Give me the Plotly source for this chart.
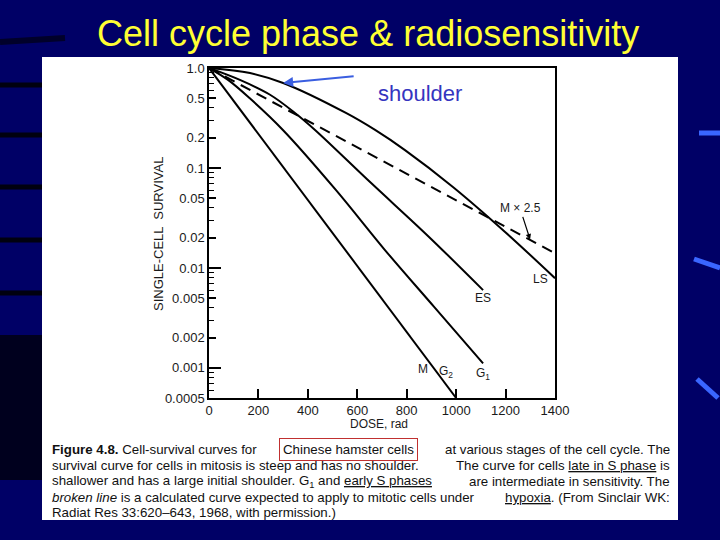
import math
import plotly.graph_objects as go

# ---------------- data ----------------
dose_M = [0, 1000]
surv_M = [1.0, 0.0005]

dose_G1 = [0, 77, 164, 299, 514, 712, 910, 1109]
surv_G1 = [1.0, 0.76, 0.50, 0.24, 0.060, 0.0151, 0.0041, 0.00111]

dose_ES = [0, 125, 247, 348, 429, 655, 886, 1109]
surv_ES = [1.0, 0.76, 0.54, 0.355, 0.24, 0.071, 0.0209, 0.0060]

dose_LS = [0, 166, 300, 554, 672, 793, 987, 1198, 1400]
surv_LS = [1.0, 0.89, 0.708, 0.355, 0.24, 0.151, 0.0646, 0.0229, 0.0079]

dose_hyp = [0, 1400]          # broken line: M x 2.5 (hypoxia)
surv_hyp = [1.0, 0.0140]

x_ticks = [0, 200, 400, 600, 800, 1000, 1200, 1400]
y_ticks = [1.0, 0.5, 0.2, 0.1, 0.05, 0.02, 0.01, 0.005, 0.002, 0.001, 0.0005]
y_ticktext = ["1.0", "0.5", "0.2", "0.1", "0.05", "0.02", "0.01", "0.005", "0.002", "0.001", "0.0005"]
y_decades = [1.0, 0.1, 0.01, 0.001]
y_minor = [m * d for d in [0.1, 0.01, 0.001, 0.0001] for m in (3, 4, 6, 7, 8, 9) if 0.0005 <= m * d <= 1]

# curve labels (dose, survival, text)
curve_labels = [
    (1343, 0.0078, "LS"),
    (1109, 0.0050, "ES"),
    (1109, 0.00087, "G<sub>1</sub>"),
    (866, 0.00098, "M"),
    (959, 0.00091, "G<sub>2</sub>"),
]
hyp_arrow_tip = (1299, 0.0193)
shoulder_text = (854, 0.56)
shoulder_tip = (300, 0.708)

# ---------------- layout helpers ----------------
L, R, T, B = 209, 555, 68, 398
W, H = 720, 540


def px(x):
    return (x - L) / (R - L)


def py(y):
    return (B - y) / (B - T)


FONT = "Liberation Sans, Arial, sans-serif"
ymin, ymax = math.log10(0.0005), 0.0

fig = go.Figure()

line_style = dict(color="black", width=2, shape="spline", smoothing=1.0)
fig.add_trace(go.Scatter(x=dose_M, y=surv_M, mode="lines", line=dict(color="black", width=2)))
fig.add_trace(go.Scatter(x=dose_G1, y=surv_G1, mode="lines", line=line_style))
fig.add_trace(go.Scatter(x=dose_ES, y=surv_ES, mode="lines", line=line_style))
fig.add_trace(go.Scatter(x=dose_LS, y=surv_LS, mode="lines", line=line_style))
fig.add_trace(go.Scatter(x=dose_hyp, y=surv_hyp, mode="lines",
                         line=dict(color="black", width=2, dash="11px,7px")))
# invisible helpers so overlay tick axes are drawn
fig.add_trace(go.Scatter(x=[0], y=[1], yaxis="y2", mode="markers", marker=dict(opacity=0), hoverinfo="skip"))
fig.add_trace(go.Scatter(x=[0], y=[1], yaxis="y3", mode="markers", marker=dict(opacity=0), hoverinfo="skip"))

tickfont = dict(family=FONT, size=13, color="#1a1a1a")

fig.update_layout(
    width=W, height=H,
    margin=dict(l=L, r=W - R, t=T, b=H - B),
    paper_bgcolor="#000066",
    plot_bgcolor="white",
    showlegend=False,
    xaxis=dict(range=[0, 1400], tickvals=x_ticks, ticks="inside", ticklen=9, tickwidth=1.5,
               tickcolor="black", showgrid=False, zeroline=False, showline=True,
               linecolor="black", linewidth=1.5, mirror=True, tickfont=tickfont),
    yaxis=dict(type="log", range=[ymin, ymax], tickvals=y_ticks, ticktext=y_ticktext,
               ticks="inside", ticklen=7, tickwidth=1.5, tickcolor="black", showgrid=False,
               zeroline=False, showline=True, linecolor="black", linewidth=1.5, mirror=True,
               tickfont=tickfont),
    yaxis2=dict(type="log", range=[ymin, ymax], overlaying="y", side="left", anchor="x",
                tickvals=y_decades, ticks="inside", ticklen=12, tickwidth=1.5, tickcolor="black",
                showticklabels=False, showgrid=False, zeroline=False, showline=False),
    yaxis3=dict(type="log", range=[ymin, ymax], overlaying="y", side="left", anchor="x",
                tickvals=y_minor, ticks="inside", ticklen=5, tickwidth=1.2, tickcolor="black",
                showticklabels=False, showgrid=False, zeroline=False, showline=False),
)

shapes = []
# white panel
shapes.append(dict(type="rect", xref="paper", yref="paper", x0=px(42), x1=px(678),
                   y0=py(520), y1=py(57), fillcolor="white", line=dict(width=0), layer="below"))
# slide decorations - dark stripes on left
for yy in (85, 135, 187, 240, 293):
    shapes.append(dict(type="line", xref="paper", yref="paper", x0=px(0), x1=px(42),
                       y0=py(yy), y1=py(yy), line=dict(color="#00000f", width=5), layer="below"))
shapes.append(dict(type="rect", xref="paper", yref="paper", x0=px(0), x1=px(42),
                   y0=py(480), y1=py(335), fillcolor="#00000c", opacity=0.8,
                   line=dict(width=0), layer="below"))
shapes.append(dict(type="line", xref="paper", yref="paper", x0=px(0), x1=px(65),
                   y0=py(42), y1=py(38), line=dict(color="#00002a", width=6), layer="below"))
# blue streaks on right
for (x0, y0, x1, y1) in ((699, 133, 720, 133), (694, 259, 720, 268), (697, 379, 718, 398)):
    shapes.append(dict(type="line", xref="paper", yref="paper", x0=px(x0), x1=px(x1),
                       y0=py(y0), y1=py(y1), line=dict(color="#3a66ff", width=5), layer="below"))
fig.update_layout(shapes=shapes)

ann = []
# title
ann.append(dict(text="Cell cycle phase &amp; radiosensitivity", xref="paper", yref="paper",
                x=px(368), y=py(33), xanchor="center", yanchor="middle", showarrow=False,
                font=dict(family=FONT, size=36, color="#ffff33")))
# axis titles
ann.append(dict(text="SINGLE-CELL  SURVIVAL", xref="paper", yref="paper", x=px(158), y=py(234),
                xanchor="center", yanchor="middle", textangle=-90, showarrow=False,
                font=dict(family=FONT, size=13, color="#1a1a1a")))
ann.append(dict(text="DOSE, rad", xref="paper", yref="paper", x=px(379), y=py(424),
                xanchor="center", yanchor="middle", showarrow=False,
                font=dict(family=FONT, size=12, color="#1a1a1a")))
# curve labels (annotation y on a log axis is given in log10 units)
for (d, s, t) in curve_labels:
    ann.append(dict(text=t, x=d, y=math.log10(s), yref="y", xref="x", xanchor="center",
                    yanchor="middle", showarrow=False,
                    font=dict(family=FONT, size=12, color="#1a1a1a")))
# M x 2.5 label with arrow onto the broken line
ann.append(dict(text="M × 2.5", x=hyp_arrow_tip[0], y=math.log10(hyp_arrow_tip[1]), xref="x",
                yref="y", ax=-10, ay=-31, showarrow=True, arrowhead=2, arrowsize=0.9,
                arrowwidth=1.2, arrowcolor="black", standoff=0,
                font=dict(family=FONT, size=12, color="#1a1a1a")))
# shoulder
ann.append(dict(text="shoulder", x=shoulder_text[0], y=math.log10(shoulder_text[1]), xref="x",
                yref="y", xanchor="center", yanchor="middle", showarrow=False,
                font=dict(family=FONT, size=22, color="#3535c0")))
ann.append(dict(text="", x=shoulder_tip[0], y=math.log10(shoulder_tip[1]), xref="x", yref="y",
                ax=72, ay=-7, showarrow=True, arrowhead=2, arrowsize=1, arrowwidth=2,
                arrowcolor="#3a5ee0"))

# caption
cf = dict(family=FONT, size=13.3, color="#111111")
RED_U = '<span style="text-decoration:underline;text-decoration-color:#b02020">'
BLUE_U = '<span style="text-decoration:underline;text-decoration-color:#2030a0">'
cap_y = [449, 465, 481, 497, 512]
cap_left = [
    "<b>Figure 4.8.</b> Cell-survival curves for",
    "survival curve for cells in mitosis is steep and has no shoulder.",
    "shallower and has a large initial shoulder. G<sub>1</sub> and " + RED_U + "early S phases</span>",
    "<i>broken line</i> is a calculated curve expected to apply to mitotic cells under",
    "Radiat Res 33:620–643, 1968, with permission.)",
]
cap_right = [
    "at various stages of the cell cycle. The",
    "The curve for cells " + RED_U + "late in S phase</span> is",
    "are intermediate in sensitivity. The",
    BLUE_U + "hypoxia</span>. (From Sinclair WK:",
    "",
]
for yy, lt, rt in zip(cap_y, cap_left, cap_right):
    ann.append(dict(text=lt, xref="paper", yref="paper", x=px(50), y=py(yy), xanchor="left",
                    yanchor="middle", showarrow=False, font=cf))
    if rt:
        ann.append(dict(text=rt, xref="paper", yref="paper", x=px(672), y=py(yy), xanchor="right",
                        yanchor="middle", showarrow=False, font=cf))
ann.append(dict(text="Chinese hamster cells", xref="paper", yref="paper", x=px(348), y=py(449),
                xanchor="center", yanchor="middle", showarrow=False, font=cf,
                bordercolor="#c03030", borderwidth=1, borderpad=3))

fig.update_layout(annotations=ann)

fig.write_html("out.html", config={"displayModeBar": False},
               post_script="document.body.style.margin='0px';")
